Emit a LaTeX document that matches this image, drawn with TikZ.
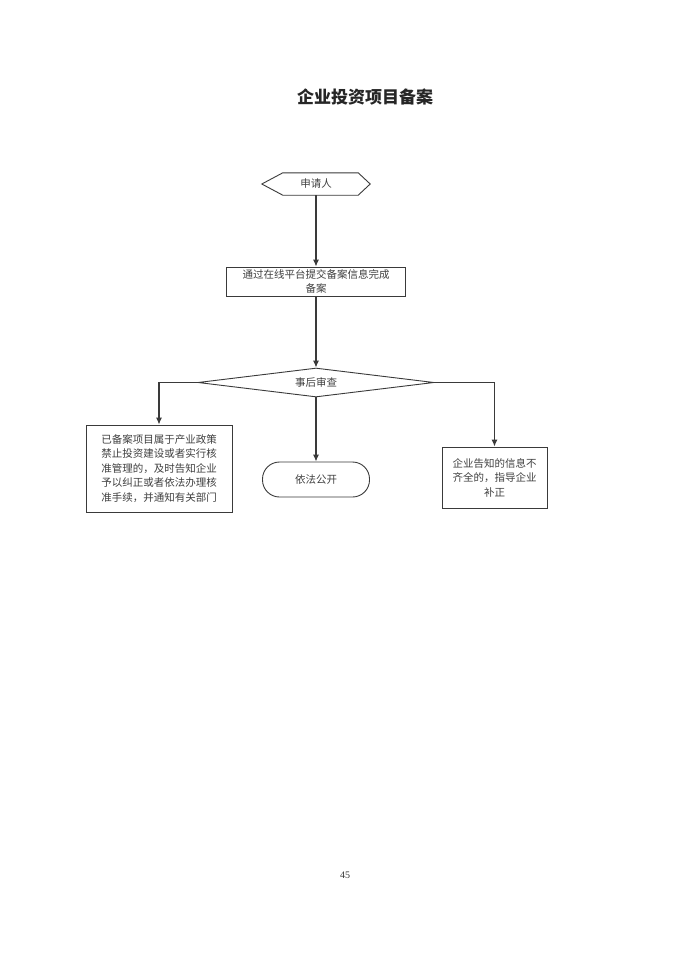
\documentclass[tikz,border=0pt]{standalone}
\usepackage{fontspec}
\newfontfamily\cjk{Noto Sans CJK SC}
\setmainfont{Liberation Serif}
\usetikzlibrary{arrows.meta,shapes.geometric}
\definecolor{ln}{HTML}{3A3A3A}
\definecolor{tx}{HTML}{404040}
\tikzset{
  arr/.style={draw=ln,line width=1.1pt,-{Latex[length=7pt,width=6pt]}},
  boxt/.style={text=tx,font=\cjk\fontsize{10.5}{14.5}\selectfont,align=center,inner sep=0pt},
  plainbox/.style={boxt,draw=ln,line width=0.9pt},
}
\begin{document}
\begin{tikzpicture}[x=1pt,y=-1pt]
\useasboundingbox[fill=white] (0,0) rectangle (692,980);
\node[font=\cjk\bfseries\fontsize{17}{20}\selectfont,text=black!85] (title) at (365,97) {企业投资项目备案};
% hexagon
\node[boxt,minimum width=108pt,minimum height=22pt] (app) at (316,184) {申请人};
\draw[ln,line width=0.9pt] (app.west) -- ([xshift=21pt]app.north west) -- ([xshift=-12pt]app.north east) -- (app.east) -- ([xshift=-12pt]app.south east) -- ([xshift=21pt]app.south west) -- cycle;
\node[plainbox,minimum width=179pt,minimum height=29pt] (sub) at (316,281.5) {通过在线平台提交备案信息完成\\备案};
\node[boxt,draw=ln,line width=0.9pt,diamond,aspect=8,minimum width=236pt,minimum height=29pt] (rev) at (316,382.5) {事后审查};
\node[plainbox,minimum width=146pt,minimum height=87pt] (lbox) at (159,468.5) {已备案项目属于产业政策\\禁止投资建设或者实行核\\准管理的，及时告知企业\\予以纠正或者依法办理核\\准手续，并通知有关部门};
\node[boxt,draw=ln,line width=0.9pt,rounded corners=17pt,minimum width=107pt,minimum height=35pt] (pub) at (316,479.5) {依法公开};
\node[plainbox,minimum width=105pt,minimum height=61pt] (rbox) at (494.5,477.5) {企业告知的信息不\\齐全的，指导企业\\补正};
\draw[arr] (app.south) -- (sub.north);
\draw[arr] (sub.south) -- (rev.north);
\draw[arr] (rev.south) -- (pub.north);
\draw[arr] (rev.west) -| (lbox.north);
\draw[arr] (rev.east) -| (rbox.north);
\node[font=\fontsize{10}{12}\selectfont,text=black!80] (pg) at (345,875) {45};
\end{tikzpicture}
\end{document}
